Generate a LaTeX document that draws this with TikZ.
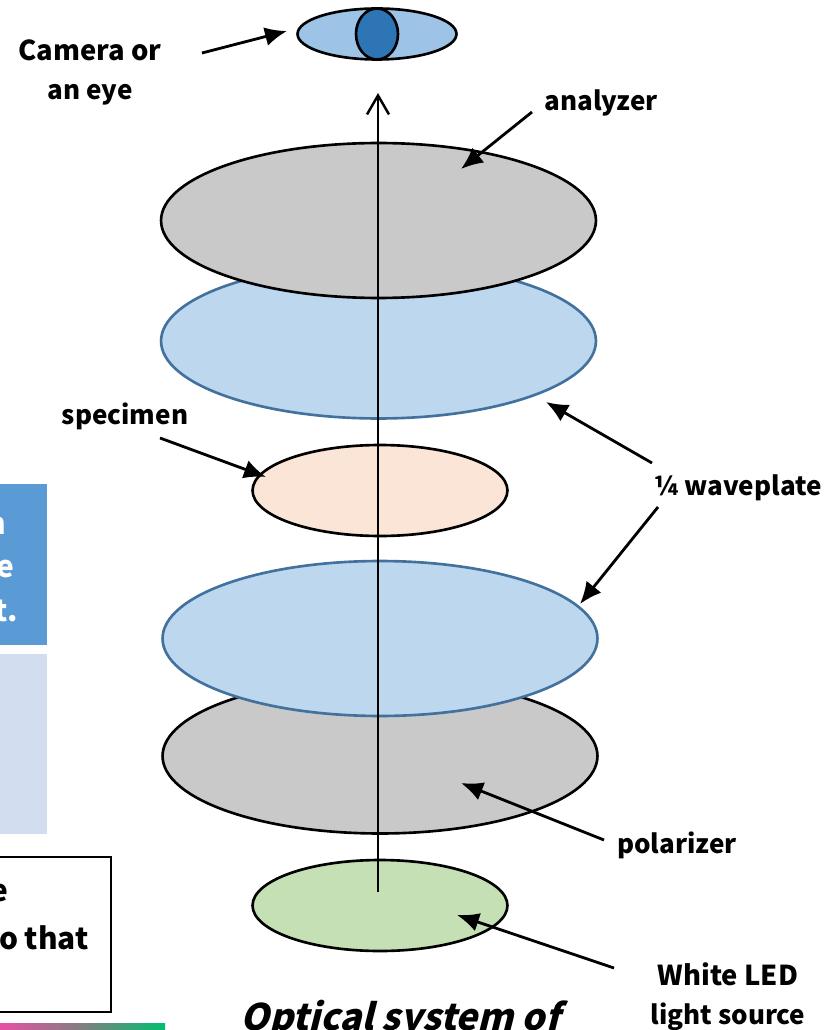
\documentclass[tikz,border=0pt]{standalone}
\usepackage{fontspec}
\setmainfont{Noto Sans CJK JP}
\newfontfamily\slantfont{Noto Sans CJK JP}[FakeSlant=0.25]
\usetikzlibrary{positioning,arrows.meta,shapes.geometric}

\definecolor{plategray}{HTML}{C9C9C9}
\definecolor{plateblue}{HTML}{BDD7EE}
\definecolor{plateedge}{HTML}{41719C}
\definecolor{platepeach}{HTML}{FBE5D6}
\definecolor{plategreen}{HTML}{C5E0B4}
\definecolor{eyeouter}{HTML}{9DC3E6}
\definecolor{eyeinner}{HTML}{2E75B6}
\definecolor{boxblue}{HTML}{5B9BD5}
\definecolor{boxpale}{HTML}{D2DEEF}
\definecolor{barpink}{HTML}{E84FA5}
\definecolor{bargreen}{HTML}{00BF6F}

\tikzset{
    x=0.02cm, y=-0.02cm,
    plate/.style={ellipse, draw, line width=1.5pt, inner sep=0pt},
    largeplate/.style={plate, minimum width=8.7cm, minimum height=3.1cm},
    smallplate/.style={plate, minimum width=5.1cm, minimum height=1.82cm},
    waveplate/.style={largeplate, fill=plateblue, draw=plateedge},
    caption/.style={font=\bfseries\fontsize{14.8}{18}\selectfont, inner sep=0pt, anchor=base},
    widecaption/.style={caption, font=\bfseries\fontsize{15.6}{18}\selectfont},
    boxtext/.style={font=\bfseries\fontsize{17}{20}\selectfont, inner sep=0pt, anchor=east},
    pointer/.style={-{Latex[length=0.44cm, width=0.38cm]}, line width=1.6pt},
}

\begin{document}
\begin{tikzpicture}
    \clip (0,0) rectangle (833,1030);

    % boxes cut off by the left edge
    \fill[boxblue] (0,484) rectangle (47,645);
    \fill[boxpale] (0,654) rectangle (47,834);
    \draw[line width=1.1pt, fill=white] (-20,857) rectangle (111,1012);
    \node[boxtext, white] (boxa) at (7,526) {n};
    \node[boxtext, white] (boxb) at (15,569) {e};
    \node[boxtext, white] (boxc) at (18,611) {t.};
    \node[boxtext] (boxd) at (9,893) {e};
    \node[boxtext] (boxe) at (89,938) {o that};

    \shade[left color=barpink, right color=bargreen, middle color=gray] (0,1023) rectangle (165,1030);

    % the optical train, bottom to top
    \node[smallplate, fill=plategreen] (source) at (380,905.5) {};
    \node[largeplate, fill=plategray] (polarizer) at (380,756) {};
    \node[waveplate] (lowerwave) at (380,638.5) {};
    \node[smallplate, fill=platepeach] (specimen) at (380,490.5) {};
    \node[waveplate] (upperwave) at (378.5,341) {};
    \node[largeplate, fill=plategray] (analyzer) at (378.5,220.5) {};

    % eye
    \node[plate, fill=eyeouter, minimum width=3.18cm, minimum height=1.02cm] (eye) at (377,34) {};
    \node[plate, fill=eyeinner, minimum width=0.84cm, minimum height=1.02cm] (pupil) at (377,34) {};

    % light axis
    \coordinate (axisstart) at (378,892);
    \coordinate (axisend) at (378,93);
    \draw[-{Straight Barb[length=0.38cm, width=0.44cm]}, line width=1.4pt] (axisstart) -- (axisend);

    % labels
    \node[widecaption] (cameralabel) at (90,61) {Camera or};
    \node[caption] (cameralabelb) at (90,100) {an eye};
    \node[caption] (analyzerlabel) at (601,111) {analyzer};
    \node[caption] (specimenlabel) at (125,424) {specimen};
    \node[caption] (wavelabel) at (738,495) {¼ waveplate};
    \node[caption] (polarizerlabel) at (677,853) {polarizer};
    \node[widecaption] (sourcelabel) at (728,985) {White LED};
    \node[caption] (sourcelabelb) at (728,1024) {light source};
    \node[inner sep=0pt, font=\slantfont\bfseries\fontsize{20.8}{24}\selectfont] (title) at (400,1019) {Optical system of};

    % pointers
    \coordinate (cameratail) at (202,53);
    \coordinate (cameratip) at (287,31);
    \coordinate (analyzertail) at (532,112);
    \coordinate (analyzertip) at (461,169);
    \coordinate (uppertail) at (652,463);
    \coordinate (uppertip) at (546,402);
    \coordinate (lowertail) at (658,507);
    \coordinate (lowertip) at (580,604);
    \coordinate (specimentail) at (160,438);
    \coordinate (specimentip) at (266,477);
    \coordinate (polarizertail) at (604,840);
    \coordinate (polarizertip) at (461,783);
    \coordinate (sourcetail) at (614,968);
    \coordinate (sourcetip) at (457,915);
    \draw[pointer] (cameratail) -- (cameratip);
    \draw[pointer] (analyzertail) -- (analyzertip);
    \draw[pointer] (uppertail) -- (uppertip);
    \draw[pointer] (lowertail) -- (lowertip);
    \draw[pointer] (specimentail) -- (specimentip);
    \draw[pointer] (polarizertail) -- (polarizertip);
    \draw[pointer] (sourcetail) -- (sourcetip);
\end{tikzpicture}
\end{document}
